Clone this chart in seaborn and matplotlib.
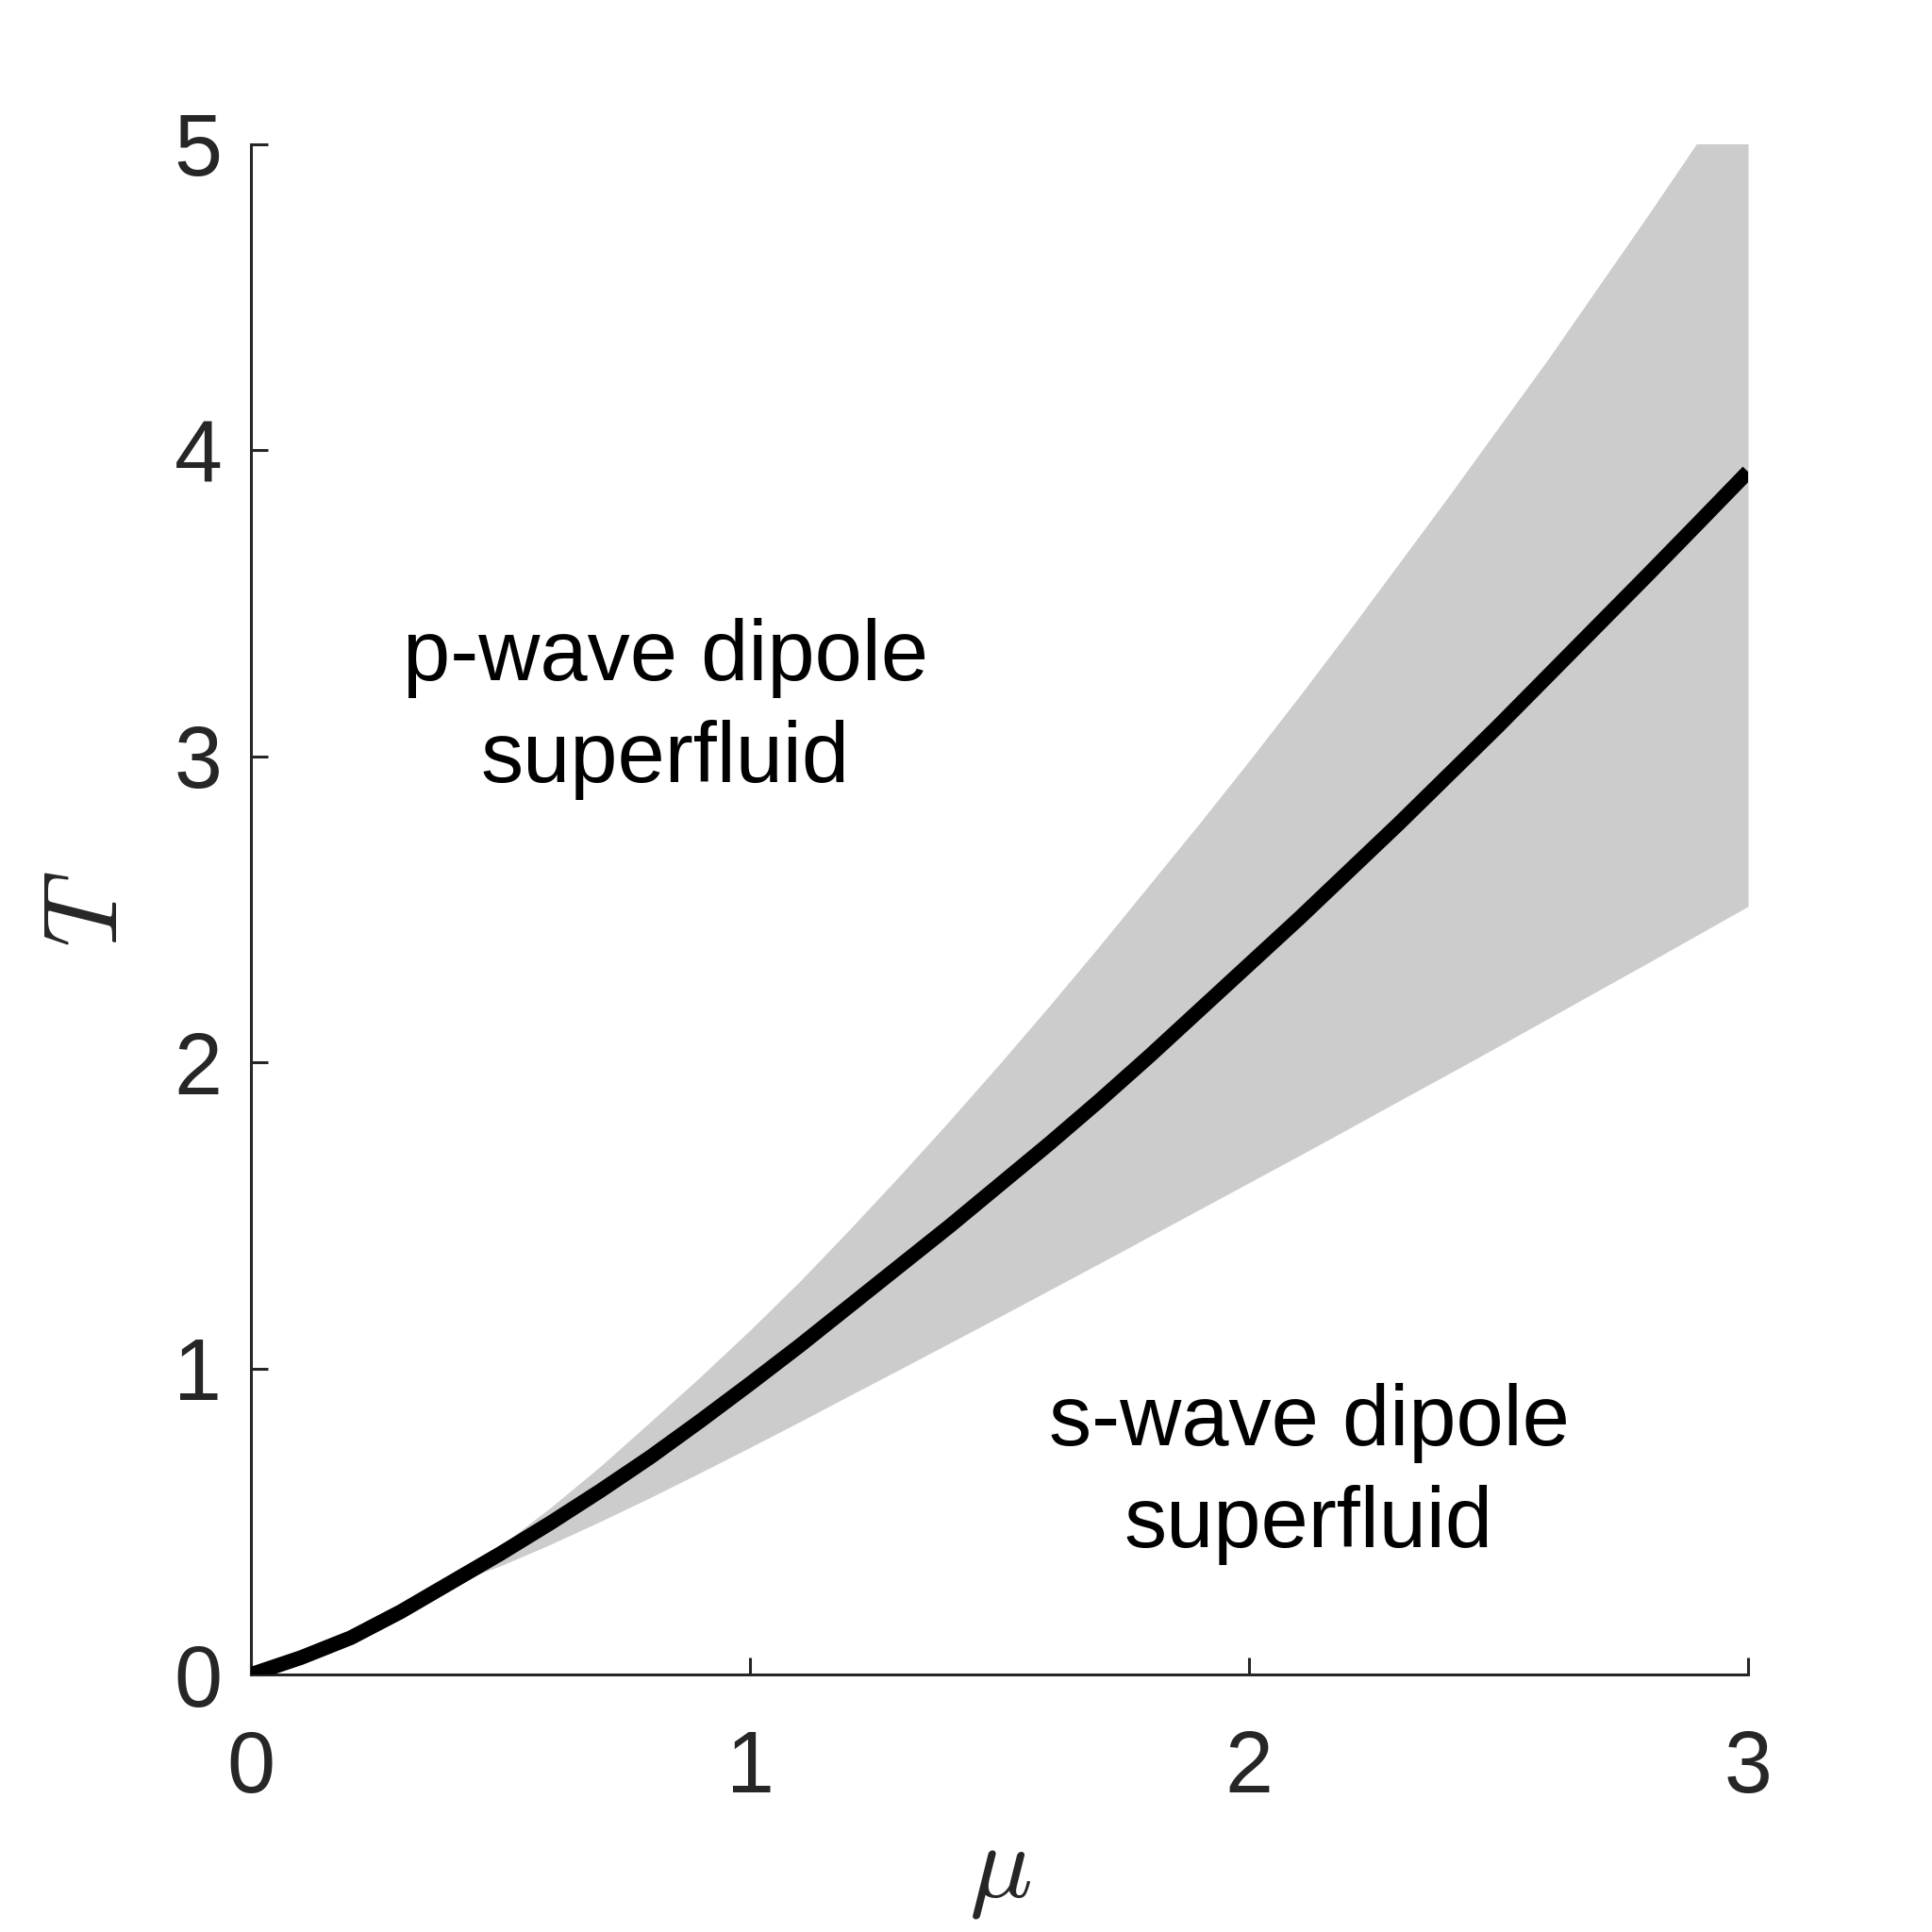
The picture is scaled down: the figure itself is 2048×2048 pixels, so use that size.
import numpy as np
import pandas as pd
import seaborn as sns
import matplotlib.pyplot as plt

# chemical potential grid and read-off temperatures
mu = [0.0, 0.1, 0.2, 0.3, 0.4, 0.5, 0.6, 0.7, 0.8, 0.9, 1.0,
      1.1, 1.2, 1.3, 1.4, 1.5, 1.6, 1.7, 1.8, 1.9, 2.0,
      2.1, 2.2, 2.3, 2.4, 2.5, 2.6, 2.7, 2.8, 2.9, 3.0]
T_c = [0.0, 0.055, 0.12, 0.205, 0.30, 0.395, 0.495, 0.60, 0.71, 0.828, 0.95,
       1.075, 1.205, 1.335, 1.465, 1.60, 1.735, 1.875, 2.02, 2.17, 2.32,
       2.47, 2.625, 2.78, 2.94, 3.10, 3.265, 3.43, 3.595, 3.762, 3.93]
T_upper = [0.0, 0.055, 0.12, 0.205, 0.30, 0.42, 0.545, 0.68, 0.825, 0.972, 1.125,
           1.285, 1.455, 1.63, 1.81, 1.995, 2.185, 2.38, 2.58, 2.78, 2.985,
           3.195, 3.41, 3.63, 3.85, 4.075, 4.30, 4.535, 4.77, 5.01, 5.25]
T_lower = [0.0, 0.055, 0.12, 0.205, 0.295, 0.355, 0.425, 0.50, 0.578, 0.659, 0.742,
           0.826, 0.912, 0.997, 1.083, 1.169, 1.256, 1.343, 1.431, 1.519, 1.607,
           1.695, 1.784, 1.874, 1.963, 2.053, 2.144, 2.235, 2.326, 2.418, 2.51]

xticks = [0, 1, 2, 3]
yticks = [0, 1, 2, 3, 4, 5]

df = pd.DataFrame({"mu": mu, "T": T_c})

sns.set_style("ticks")
plt.rcParams["font.family"] = ["Liberation Sans", "DejaVu Sans"]
plt.rcParams["mathtext.fontset"] = "cm"

fig = plt.figure(figsize=(10.24, 10.24), dpi=200)
ax = fig.add_axes([0.1299, 0.1333, 0.7749, 0.792])

ax.fill_between(mu, T_lower, T_upper, color="#cccccc", lw=0, zorder=1)
sns.lineplot(data=df, x="mu", y="T", ax=ax, color="black", lw=5.6,
             solid_capstyle="butt", zorder=3)

ax.set_xlim(0, 3)
ax.set_ylim(0, 5)
ax.set_xticks(xticks)
ax.set_yticks(yticks)
sns.despine(ax=ax)
for s in ["left", "bottom"]:
    ax.spines[s].set_color("#262626")
    ax.spines[s].set_linewidth(1.1)
ax.tick_params(direction="in", length=6.5, width=1.1, colors="#262626", labelsize=33)
ax.tick_params(axis="x", pad=21)
ax.tick_params(axis="y", pad=11)

ax.set_xlabel(r"$\mu$", fontsize=40, color="#262626")
ax.set_ylabel(r"$T$", fontsize=40, color="#262626")
ax.xaxis.set_label_coords(0.5, -0.097)
ax.yaxis.set_label_coords(-0.075, 0.5)

ax.text(0.83, 3.155, "p-wave dipole\nsuperfluid", fontsize=32.5, ha="center", va="center",
        linespacing=1.34, color="black")
ax.text(2.12, 0.655, "s-wave dipole\nsuperfluid", fontsize=32.5, ha="center", va="center",
        linespacing=1.34, color="black")

fig.savefig("out.png", dpi=200)
